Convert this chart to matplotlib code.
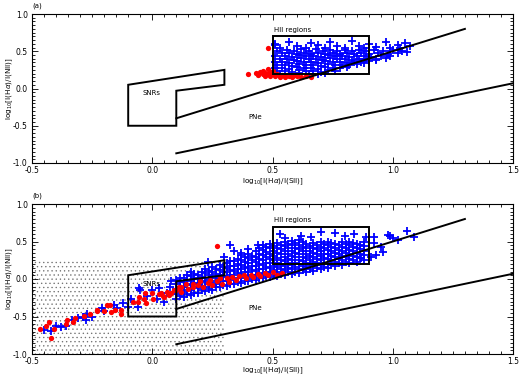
import numpy as np
import matplotlib
matplotlib.use("Agg")
import matplotlib.pyplot as plt
from matplotlib.patches import Rectangle, Polygon
from matplotlib.ticker import MultipleLocator, FormatStrFormatter

plt.rcParams['axes.unicode_minus'] = False
plt.rcParams['hatch.linewidth'] = 0.45

# diagnostic regions (same in both panels)
snr_poly = [(-0.1, 0.05), (0.3, 0.25), (0.3, 0.05), (0.1, -0.03), (0.1, -0.5), (-0.1, -0.5)]
hii_box = (0.5, 0.2, 0.9, 0.7)          # x0, y0, x1, y1
upper_line = [(0.1, -0.4), (1.3, 0.8)]
lower_line = [(0.1, -0.87), (1.5, 0.07)]
stipple_box = (-0.5, -1.0, 0.3, 0.25)   # panel (b) only

# panel (a) points
a_blue = [
    (0.51, 0.60), (0.57, 0.63), (0.66, 0.61), (0.74, 0.63), (0.83, 0.64), (0.90, 0.60), (0.97, 0.62),
    (1.02, 0.59), (1.05, 0.61), (0.51, 0.58),
    (0.53, 0.55), (0.60, 0.57), (0.64, 0.55), (0.69, 0.58), (0.72, 0.55), (0.77, 0.57), (0.80, 0.55),
    (0.86, 0.57), (0.88, 0.54), (0.93, 0.56), (0.99, 0.55), (1.03, 0.54), (1.07, 0.57),
    (0.52, 0.51), (0.56, 0.52), (0.59, 0.50), (0.62, 0.53), (0.65, 0.51), (0.68, 0.53), (0.71, 0.50),
    (0.74, 0.52), (0.77, 0.50), (0.80, 0.52), (0.83, 0.50), (0.86, 0.52), (0.89, 0.50), (0.92, 0.52),
    (0.96, 0.50), (1.00, 0.52), (1.04, 0.50),
    (0.54, 0.47), (0.57, 0.48), (0.60, 0.46), (0.63, 0.48), (0.66, 0.46), (0.69, 0.48), (0.72, 0.46),
    (0.75, 0.48), (0.78, 0.46), (0.81, 0.48), (0.84, 0.46), (0.87, 0.48), (0.90, 0.46), (0.94, 0.47),
    (0.98, 0.46), (1.02, 0.47), (1.06, 0.49),
    (0.51, 0.43), (0.55, 0.44), (0.58, 0.42), (0.61, 0.45), (0.64, 0.43), (0.67, 0.44), (0.70, 0.42),
    (0.73, 0.45), (0.76, 0.43), (0.79, 0.44), (0.82, 0.42), (0.85, 0.44), (0.88, 0.43), (0.91, 0.42),
    (0.95, 0.44), (0.99, 0.43),
    (0.53, 0.39), (0.56, 0.40), (0.59, 0.38), (0.62, 0.41), (0.65, 0.39), (0.68, 0.40), (0.71, 0.38),
    (0.74, 0.41), (0.77, 0.39), (0.80, 0.40), (0.83, 0.38), (0.86, 0.40), (0.89, 0.39), (0.93, 0.40),
    (0.97, 0.41),
    (0.51, 0.35), (0.54, 0.36), (0.57, 0.34), (0.60, 0.37), (0.63, 0.35), (0.66, 0.36), (0.69, 0.34),
    (0.72, 0.37), (0.75, 0.35), (0.78, 0.36), (0.81, 0.34), (0.84, 0.36), (0.87, 0.35), (0.90, 0.37),
    (0.93, 0.38),
    (0.52, 0.31), (0.55, 0.32), (0.58, 0.30), (0.61, 0.33), (0.64, 0.31), (0.67, 0.32), (0.70, 0.30),
    (0.73, 0.33), (0.76, 0.31), (0.79, 0.32), (0.82, 0.31), (0.85, 0.33), (0.88, 0.34),
    (0.51, 0.27), (0.54, 0.28), (0.57, 0.26), (0.60, 0.29), (0.63, 0.27), (0.66, 0.28), (0.69, 0.26),
    (0.72, 0.29), (0.75, 0.27), (0.78, 0.28), (0.81, 0.29),
    (0.52, 0.23), (0.55, 0.24), (0.58, 0.22), (0.61, 0.25), (0.64, 0.23), (0.67, 0.24), (0.70, 0.22),
    (0.73, 0.25), (0.76, 0.24),
    (0.53, 0.20), (0.57, 0.19), (0.61, 0.21), (0.65, 0.19), (0.69, 0.20), (0.72, 0.21),
]
a_red = [
    (0.40, 0.19), (0.43, 0.21), (0.44, 0.18), (0.45, 0.22), (0.46, 0.19), (0.46, 0.24), (0.47, 0.17),
    (0.47, 0.21), (0.48, 0.26), (0.48, 0.19), (0.49, 0.22), (0.49, 0.17), (0.50, 0.20), (0.50, 0.24),
    (0.51, 0.17), (0.52, 0.19), (0.53, 0.16), (0.54, 0.18), (0.55, 0.16), (0.56, 0.18), (0.57, 0.17),
    (0.58, 0.16), (0.59, 0.18), (0.60, 0.17), (0.62, 0.16), (0.64, 0.17), (0.66, 0.16), (0.48, 0.54),
]

# panel (b) points: tail, sparse outliers and dense cloud
b_blue = [
    (-0.45, -0.68), (-0.42, -0.69), (-0.40, -0.62), (-0.38, -0.64), (-0.36, -0.62), (-0.335, -0.55),
    (-0.31, -0.52), (-0.29, -0.50), (-0.275, -0.55), (-0.27, -0.47), (-0.25, -0.50), (-0.21, -0.38),
    (-0.20, -0.43), (-0.16, -0.35), (-0.145, -0.38), (-0.12, -0.32), (-0.10, -0.37), (-0.09, -0.26),
    (-0.06, -0.37), (-0.055, -0.12), (-0.05, -0.15), (-0.02, -0.22), (0.00, -0.15), (0.02, -0.26),
    (0.03, -0.12), (0.05, -0.30), (0.06, -0.19), (0.075, -0.10), (0.08, -0.03), (0.10, -0.17),
    (0.23, 0.23), (0.30, 0.30), (0.325, 0.45), (0.34, 0.37), (0.37, 0.35), (0.40, 0.40), (0.44, 0.45),
    (0.10, -0.26), (0.10, -0.20), (0.10, -0.13), (0.10, -0.07), (0.10, -0.01),
    (0.13, -0.24), (0.13, -0.17), (0.13, -0.11), (0.13, -0.04), (0.13, 0.02),
    (0.16, -0.21), (0.16, -0.15), (0.16, -0.08), (0.16, -0.02), (0.16, 0.04), (0.16, 0.10),
    (0.19, -0.18), (0.19, -0.12), (0.19, -0.06), (0.19, 0.00), (0.19, 0.06),
    (0.22, -0.16), (0.22, -0.10), (0.22, -0.04), (0.22, 0.02), (0.22, 0.08), (0.22, 0.14),
    (0.25, -0.14), (0.25, -0.08), (0.25, -0.02), (0.25, 0.04), (0.25, 0.10), (0.25, 0.16),
    (0.28, -0.11), (0.28, -0.06), (0.28, 0.00), (0.28, 0.06), (0.28, 0.12), (0.28, 0.19),
    (0.31, -0.09), (0.31, -0.03), (0.31, 0.03), (0.31, 0.09), (0.31, 0.15), (0.31, 0.21),
    (0.34, -0.07), (0.34, -0.01), (0.34, 0.05), (0.34, 0.11), (0.34, 0.17), (0.34, 0.24),
    (0.37, -0.05), (0.37, 0.01), (0.37, 0.07), (0.37, 0.13), (0.37, 0.19), (0.37, 0.26), (0.37, 0.32),
    (0.40, -0.03), (0.40, 0.03), (0.40, 0.09), (0.40, 0.15), (0.40, 0.21), (0.40, 0.28), (0.40, 0.34),
    (0.43, -0.01), (0.43, 0.05), (0.43, 0.11), (0.43, 0.17), (0.43, 0.23), (0.43, 0.30), (0.43, 0.37),
    (0.46, 0.01), (0.46, 0.07), (0.46, 0.13), (0.46, 0.19), (0.46, 0.25), (0.46, 0.32), (0.46, 0.39),
    (0.46, 0.45),
    (0.49, 0.03), (0.49, 0.09), (0.49, 0.15), (0.49, 0.21), (0.49, 0.27), (0.49, 0.34), (0.49, 0.41),
    (0.49, 0.47),
    (0.52, 0.04), (0.52, 0.10), (0.52, 0.16), (0.52, 0.22), (0.52, 0.28), (0.52, 0.35), (0.52, 0.42),
    (0.52, 0.48),
    (0.55, 0.06), (0.55, 0.12), (0.55, 0.18), (0.55, 0.24), (0.55, 0.30), (0.55, 0.37), (0.55, 0.44),
    (0.55, 0.50),
    (0.58, 0.07), (0.58, 0.13), (0.58, 0.19), (0.58, 0.25), (0.58, 0.31), (0.58, 0.38), (0.58, 0.45),
    (0.58, 0.51),
    (0.61, 0.08), (0.61, 0.14), (0.61, 0.20), (0.61, 0.26), (0.61, 0.33), (0.61, 0.40), (0.61, 0.46),
    (0.61, 0.52),
    (0.64, 0.10), (0.64, 0.16), (0.64, 0.22), (0.64, 0.28), (0.64, 0.34), (0.64, 0.41), (0.64, 0.47),
    (0.67, 0.11), (0.67, 0.17), (0.67, 0.23), (0.67, 0.29), (0.67, 0.35), (0.67, 0.42), (0.67, 0.48),
    (0.70, 0.13), (0.70, 0.19), (0.70, 0.25), (0.70, 0.31), (0.70, 0.37), (0.70, 0.43), (0.70, 0.49),
    (0.73, 0.15), (0.73, 0.21), (0.73, 0.27), (0.73, 0.33), (0.73, 0.39), (0.73, 0.45), (0.73, 0.50),
    (0.76, 0.17), (0.76, 0.23), (0.76, 0.29), (0.76, 0.35), (0.76, 0.41), (0.76, 0.47),
    (0.79, 0.19), (0.79, 0.25), (0.79, 0.31), (0.79, 0.37), (0.79, 0.43), (0.79, 0.49),
    (0.82, 0.21), (0.82, 0.27), (0.82, 0.33), (0.82, 0.39), (0.82, 0.45), (0.82, 0.50),
    (0.85, 0.23), (0.85, 0.29), (0.85, 0.35), (0.85, 0.41), (0.85, 0.47),
    (0.88, 0.26), (0.88, 0.32), (0.88, 0.38), (0.88, 0.44), (0.88, 0.50),
    (0.91, 0.29), (0.92, 0.48), (0.92, 0.56), (0.93, 0.32), (0.95, 0.43), (0.96, 0.36), (0.98, 0.59),
    (0.99, 0.57), (1.00, 0.55), (1.02, 0.52), (1.06, 0.64), (1.09, 0.56), (0.87, 0.28), (0.89, 0.56),
    (0.84, 0.60), (0.76, 0.61), (0.70, 0.63), (0.55, 0.55), (0.53, 0.60), (0.62, 0.58), (0.66, 0.56),
    (0.80, 0.57),
]
# extra points filling the gaps in the dense part of the (b) cloud
b_blue_fill = [
    (0.115, -0.23), (0.115, -0.16), (0.115, -0.10), (0.115, -0.04), (0.115, 0.01),
    (0.145, -0.20), (0.145, -0.14), (0.145, -0.07), (0.145, -0.01), (0.145, 0.05),
    (0.175, -0.18), (0.175, -0.11), (0.175, -0.05), (0.175, 0.01), (0.175, 0.07),
    (0.205, -0.15), (0.205, -0.09), (0.205, -0.03), (0.205, 0.03), (0.205, 0.10),
    (0.235, -0.13), (0.235, -0.07), (0.235, -0.01), (0.235, 0.05), (0.235, 0.11),
    (0.265, -0.10), (0.265, -0.05), (0.265, 0.01), (0.265, 0.07), (0.265, 0.13),
    (0.295, -0.08), (0.295, -0.02), (0.295, 0.04), (0.295, 0.10), (0.295, 0.16),
    (0.325, -0.06), (0.325, 0.00), (0.325, 0.06), (0.325, 0.12), (0.325, 0.18), (0.325, 0.24),
    (0.355, -0.04), (0.355, 0.02), (0.355, 0.08), (0.355, 0.14), (0.355, 0.20), (0.355, 0.27),
    (0.385, -0.02), (0.385, 0.04), (0.385, 0.10), (0.385, 0.16), (0.385, 0.23), (0.385, 0.30),
    (0.415, 0.00), (0.415, 0.06), (0.415, 0.12), (0.415, 0.18), (0.415, 0.25), (0.415, 0.31),
    (0.445, 0.02), (0.445, 0.08), (0.445, 0.14), (0.445, 0.20), (0.445, 0.27), (0.445, 0.34), (0.445, 0.41),
    (0.475, 0.04), (0.475, 0.10), (0.475, 0.16), (0.475, 0.22), (0.475, 0.29), (0.475, 0.36), (0.475, 0.43),
    (0.505, 0.06), (0.505, 0.12), (0.505, 0.18), (0.505, 0.25), (0.505, 0.31), (0.505, 0.38), (0.505, 0.44),
    (0.535, 0.07), (0.535, 0.13), (0.535, 0.19), (0.535, 0.26), (0.535, 0.33), (0.535, 0.40), (0.535, 0.46),
    (0.565, 0.09), (0.565, 0.15), (0.565, 0.21), (0.565, 0.27), (0.565, 0.34), (0.565, 0.41), (0.565, 0.47),
    (0.595, 0.10), (0.595, 0.16), (0.595, 0.22), (0.595, 0.29), (0.595, 0.35), (0.595, 0.42), (0.595, 0.48),
    (0.625, 0.12), (0.625, 0.18), (0.625, 0.24), (0.625, 0.30), (0.625, 0.37), (0.625, 0.43), (0.625, 0.49),
    (0.655, 0.13), (0.655, 0.19), (0.655, 0.25), (0.655, 0.31), (0.655, 0.38), (0.655, 0.44),
    (0.685, 0.15), (0.685, 0.21), (0.685, 0.27), (0.685, 0.33), (0.685, 0.40), (0.685, 0.46),
    (0.715, 0.16), (0.715, 0.22), (0.715, 0.28), (0.715, 0.34), (0.715, 0.41), (0.715, 0.47),
    (0.745, 0.19), (0.745, 0.25), (0.745, 0.31), (0.745, 0.37), (0.745, 0.43), (0.745, 0.48),
    (0.775, 0.21), (0.775, 0.27), (0.775, 0.33), (0.775, 0.39), (0.775, 0.45),
    (0.805, 0.23), (0.805, 0.29), (0.805, 0.35), (0.805, 0.41), (0.805, 0.47),
    (0.835, 0.25), (0.835, 0.31), (0.835, 0.37), (0.835, 0.43), (0.835, 0.48),
    (0.865, 0.28), (0.865, 0.34), (0.865, 0.40), (0.865, 0.46),
]
b_red = [
    (-0.465, -0.67), (-0.44, -0.63), (-0.43, -0.57), (-0.42, -0.78), (-0.41, -0.66), (-0.36, -0.60),
    (-0.355, -0.55), (-0.33, -0.57), (-0.32, -0.52), (-0.285, -0.49), (-0.26, -0.46), (-0.23, -0.43),
    (-0.23, -0.41), (-0.20, -0.43), (-0.19, -0.35), (-0.175, -0.35), (-0.17, -0.44), (-0.155, -0.41),
    (-0.13, -0.41), (-0.13, -0.46), (-0.08, -0.30), (-0.06, -0.30), (-0.055, -0.24), (-0.035, -0.26),
    (-0.03, -0.19), (-0.025, -0.32), (0.00, -0.19), (0.005, -0.27), (0.035, -0.19), (0.045, -0.23),
    (0.07, -0.21), (0.09, -0.15), (0.105, -0.12), (0.11, -0.10), (0.27, 0.44),
    (0.03, -0.20), (0.05, -0.24), (0.06, -0.17), (0.08, -0.19), (0.10, -0.14), (0.12, -0.10),
    (0.12, -0.17), (0.14, -0.07), (0.15, -0.13), (0.17, -0.06), (0.17, -0.11), (0.19, -0.08),
    (0.20, -0.03), (0.21, -0.10), (0.23, -0.05), (0.24, -0.01), (0.25, -0.08), (0.27, -0.03),
    (0.28, 0.01), (0.29, -0.06), (0.31, 0.01), (0.32, -0.04), (0.33, 0.03), (0.35, -0.01),
    (0.36, 0.04), (0.38, 0.05), (0.39, 0.01), (0.41, 0.06), (0.42, 0.03), (0.44, 0.07), (0.45, 0.04),
    (0.47, 0.08), (0.48, 0.05), (0.50, 0.09), (0.52, 0.06), (0.54, 0.08),
]


def draw_panel(ax, blue, red, tag, stipple, xlab_y):
    if stipple:
        x0, y0, x1, y1 = stipple_box
        ax.add_patch(Rectangle((x0, y0), x1 - x0, y1 - y0, facecolor='none',
                               edgecolor='0.45', hatch='....', linewidth=0, zorder=0))
    bx, by = zip(*blue)
    rx, ry = zip(*red)
    ax.plot(bx, by, '+', color='#0000ff', ms=6, mew=1.3, zorder=2)
    ax.plot(rx, ry, 'o', color='#ff0000', ms=3.8, mew=0, zorder=3)

    ax.add_patch(Polygon(snr_poly, closed=True, fill=False, edgecolor='k', lw=1.4, zorder=4))
    x0, y0, x1, y1 = hii_box
    ax.add_patch(Rectangle((x0, y0), x1 - x0, y1 - y0, fill=False, edgecolor='k', lw=1.4, zorder=4))
    for ln in (upper_line, lower_line):
        (xa, ya), (xb, yb) = ln
        ax.plot([xa, xb], [ya, yb], color='k', lw=1.4, zorder=4)

    ax.text(0.505, 0.75, 'HII regions', fontsize=5, va='bottom', ha='left')
    ax.text(-0.04, -0.065, 'SNRs', fontsize=5, va='center', ha='left')
    ax.text(0.40, -0.38, 'PNe', fontsize=5, va='center', ha='left')
    ax.text(0.0, 1.058, tag, transform=ax.transAxes, fontsize=5, va='center', ha='left')

    ax.set_xlim(-0.5, 1.5)
    ax.set_ylim(-1.0, 1.0)
    ax.xaxis.set_major_locator(MultipleLocator(0.5))
    ax.xaxis.set_minor_locator(MultipleLocator(0.05))
    ax.yaxis.set_major_locator(MultipleLocator(0.5))
    ax.yaxis.set_minor_locator(MultipleLocator(0.05))
    ax.xaxis.set_major_formatter(FormatStrFormatter('%.1f'))
    ax.yaxis.set_major_formatter(FormatStrFormatter('%.1f'))
    ax.tick_params(which='both', direction='in', top=True, right=True, width=0.6, labelsize=5.5)
    ax.tick_params(which='major', length=4, pad=3)
    ax.tick_params(axis='x', which='major', pad=2)
    ax.tick_params(which='minor', length=2)
    for s in ax.spines.values():
        s.set_linewidth(0.8)
    ax.set_xlabel(r'log$_{10}$[I(H$\alpha$)/I(SII)]', fontsize=5.2)
    ax.set_ylabel(r'log$_{10}$[I(H$\alpha$)/I(NII)]', fontsize=5.2)
    ax.xaxis.set_label_coords(0.5, xlab_y)
    ax.yaxis.set_label_coords(-0.036, 0.5)


fig = plt.figure(figsize=(5.2, 3.77), dpi=100)
ax_a = fig.add_axes([32 / 520, 1 - 163 / 377, 481 / 520, 149 / 377])
ax_b = fig.add_axes([32 / 520, 1 - 354 / 377, 481 / 520, 150 / 377])
draw_panel(ax_a, a_blue, a_red, '(a)', False, -0.088)
draw_panel(ax_b, b_blue + b_blue_fill, b_red, '(b)', True, -0.08)

fig.savefig('out.png', dpi=100)
